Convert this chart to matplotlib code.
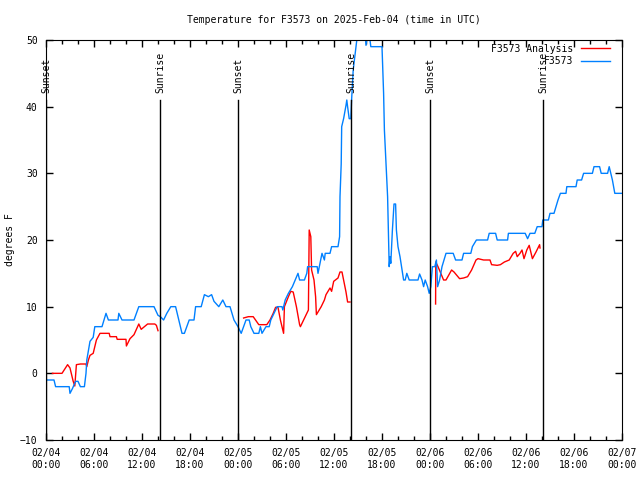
import matplotlib
matplotlib.use('Agg')
import matplotlib.pyplot as plt
import numpy as np

# hours since 2025-02-04 00:00 UTC
obs_hours = [0.0, 1.0, 1.2, 2.9, 3.0, 3.3, 3.7, 4.0, 4.3, 4.8, 5.0, 5.1, 5.5, 5.9, 6.1, 7.0, 7.5, 7.8,
             9.0, 9.1, 9.5, 11.0, 11.6, 13.5, 14.0, 14.3, 14.7, 15.1, 15.6, 16.2, 16.5, 17.0, 17.3, 17.6,
             17.9, 18.5, 18.7, 19.4, 19.8, 20.3, 20.7, 21.0, 21.6, 22.1, 22.5, 23.0, 23.5, 24.0, 24.4,
             24.7, 25.0, 25.4, 25.6, 26.0, 26.6, 26.8, 27.0, 27.5, 27.9, 28.1, 28.5, 28.9, 29.5, 29.6,
             29.9, 30.3, 30.8, 31.5, 31.7, 32.3, 32.6, 32.7, 33.9, 34.0, 34.5, 34.8, 34.9, 35.5, 35.7,
             36.5, 36.7, 36.75, 36.9, 36.96, 37.2, 37.5, 37.6, 37.7, 37.9, 38.1, 38.2, 38.4, 38.75, 38.9,
             39.2, 39.9, 40.0, 40.2, 40.4, 40.6, 42.0, 42.2, 42.3, 42.5, 42.7, 42.8, 42.9, 43.0, 43.1,
             43.3, 43.5, 43.7, 43.8, 44.0, 44.25, 44.5, 44.7, 44.9, 45.1, 45.4, 46.5, 46.7, 47.0, 47.2,
             47.4, 47.7, 47.9, 48.1, 48.3, 48.6, 48.8, 48.95, 49.2, 49.5, 49.75, 50.0, 50.9, 51.2, 52.0,
             52.2, 53.1, 53.3, 53.8, 55.2, 55.4, 56.2, 56.4, 57.7, 57.8, 59.9, 60.2, 60.5, 61.1, 61.4,
             62.0, 62.1, 62.8, 63.0, 63.5, 63.75, 64.0, 64.3, 65.0, 65.1, 66.25, 66.4, 66.95, 67.2, 68.3,
             68.5, 69.2, 69.4, 70.2, 70.4, 70.6, 70.8, 71.1, 72.0]
obs_temp = [-1, -1, -2, -2, -3, -2.3, -1.2, -1.2, -2, -2, 0, 2, 4.8, 5.4, 7, 7, 9, 8,
            8, 9, 8, 8, 10, 10, 8.7, 8.5, 8, 9, 10, 10, 8.5, 6, 6, 7,
            8, 8, 10, 10, 11.8, 11.5, 11.8, 10.8, 10, 11, 10, 10, 8, 7, 6,
            7, 8, 8, 7, 6, 6, 7, 6, 7, 7, 8, 9, 10, 10, 9.5,
            11, 12, 13, 15, 14, 14, 15, 16, 16, 15, 18, 17, 18, 18, 19,
            19, 20.5, 26.5, 31.4, 37, 38.2, 40.2, 41, 40, 38.2, 38.2, 41, 45.5, 49, 50.5,
            52, 51, 49.2, 51, 51, 49, 49, 42, 36.5, 31.4, 26.5, 21.5, 16, 17.5, 16.5,
            21.5, 25.4, 25.4, 21.5, 19, 17.5, 15.5, 14, 14, 15, 14, 14, 14.9, 14, 13,
            14, 13, 12, 13, 16, 16, 17, 13, 14, 16, 17, 18, 18, 17, 17,
            18, 18, 19, 20, 20, 21, 21, 20, 20, 21, 21, 20.2, 21, 21, 22,
            22, 23, 23, 24, 24, 25, 26, 27, 27, 28, 28, 29, 29, 30, 30,
            31, 31, 30, 30, 31, 30, 29, 27, 27]

ana_hours = [0.8, 2.0, 2.7, 3.0, 3.4, 3.6, 3.8, 4.3, 5.0, 5.1, 5.3, 5.5, 5.9, 6.3, 6.75, 7.9, 8.0,
             8.8, 8.9, 10.0, 10.05, 10.5, 11.0, 11.6, 11.9, 12.7, 13.6, 13.8, 14.0,
             19.0,
             24.7, 25.3, 25.9, 26.6, 27.6, 28.0, 28.4, 28.7, 29.0, 29.3, 29.7, 29.8, 30.3, 30.6, 30.9,
             31.3, 31.7, 31.8, 32.4, 32.8, 32.9, 33.1, 33.2, 33.5, 33.7, 33.8, 34.4, 34.8, 35.0, 35.5,
             35.7, 35.96, 36.5, 36.75, 37.0, 37.2, 37.5, 37.7, 38.0,
             43.0,
             48.7, 48.72, 49.0, 49.7, 50.0, 50.7, 51.0, 51.7, 52.2, 52.7, 53.2, 53.75, 54.0, 54.7, 55.5,
             55.7, 56.4, 56.8, 57.3, 57.9, 58.4, 58.7, 58.9, 59.25, 59.5, 59.75, 60.1, 60.4, 60.8, 61.25,
             61.7, 61.75]
ana_temp = [0, 0, 1.3, 0.8, -1.2, -1.9, 1.3, 1.4, 1.4, 1, 2, 2.7, 3, 5, 6, 6, 5.5,
            5.5, 5.1, 5.1, 4.1, 5.2, 5.8, 7.4, 6.6, 7.4, 7.4, 7.2, 6.4,
            np.nan,
            8.3, 8.5, 8.5, 7.3, 7.3, 8, 9, 9.9, 9.9, 8, 6, 10, 11.5, 12.3, 12.2,
            10, 7.3, 7, 8.5, 9.5, 21.5, 20.5, 15.5, 14, 11.5, 8.8, 10, 11, 11.8, 12.8,
            12.3, 13.8, 14.3, 15.2, 15.2, 14, 12.2, 10.7, 10.7,
            np.nan,
            10.4, 16.7, 16, 14, 14, 15.5, 15.2, 14.2, 14.3, 14.5, 15.5, 17, 17.2, 17, 17,
            16.3, 16.2, 16.3, 16.7, 17, 18, 18.3, 17.5, 18, 18.5, 17.2, 18.5, 19.2, 17.2, 18.2,
            19.3, 18.8]

sun_hours = [0.0, 14.25, 24.0, 38.15, 48.0, 62.15]
sun_labels = ['Sunset', 'Sunrise', 'Sunset', 'Sunrise', 'Sunset', 'Sunrise']

tick_hours = list(range(0, 73, 6))
tick_labels = ['02/04\n00:00', '02/04\n06:00', '02/04\n12:00', '02/04\n18:00',
               '02/05\n00:00', '02/05\n06:00', '02/05\n12:00', '02/05\n18:00',
               '02/06\n00:00', '02/06\n06:00', '02/06\n12:00', '02/06\n18:00',
               '02/07\n00:00']

plt.rcParams.update({
    'font.family': 'DejaVu Sans Mono',
    'font.size': 7,
})

fig = plt.figure(figsize=(6.4, 4.8), dpi=100)
ax = fig.add_axes([46 / 640, 40 / 480, 576 / 640, 400 / 480])

ax.plot(ana_hours, ana_temp, color='#ff0000', lw=1, label='F3573 Analysis')
ax.plot(obs_hours, obs_temp, color='#0080ff', lw=1, label='F3573')

for h, lab in zip(sun_hours, sun_labels):
    ax.plot([h, h], [-10, 41], color='black', lw=1)
    ax.text(h, 42, lab, rotation=90, ha='center', va='bottom', fontsize=7)

ax.set_xlim(0, 72)
ax.set_ylim(-10, 50)
ax.set_xticks(tick_hours)
ax.set_xticklabels(tick_labels)
ax.set_xticks(np.arange(0, 73, 2), minor=True)
ax.set_yticks(range(-10, 51, 10))
ax.tick_params(direction='in', top=True, right=True, length=5, width=1, pad=6)
ax.tick_params(which='minor', direction='in', top=True, length=3, width=1)

ax.set_title('Temperature for F3573 on 2025-Feb-04 (time in UTC)', fontsize=7, pad=12)
ax.set_ylabel('degrees F')
ax.yaxis.set_label_coords(-0.054, 0.5)

ax.legend(loc='upper right', bbox_to_anchor=(0.986, 1.0), frameon=False, markerfirst=False,
          handlelength=3.0, borderaxespad=0, labelspacing=0.25, fontsize=7)

fig.savefig('out.png', dpi=100)
